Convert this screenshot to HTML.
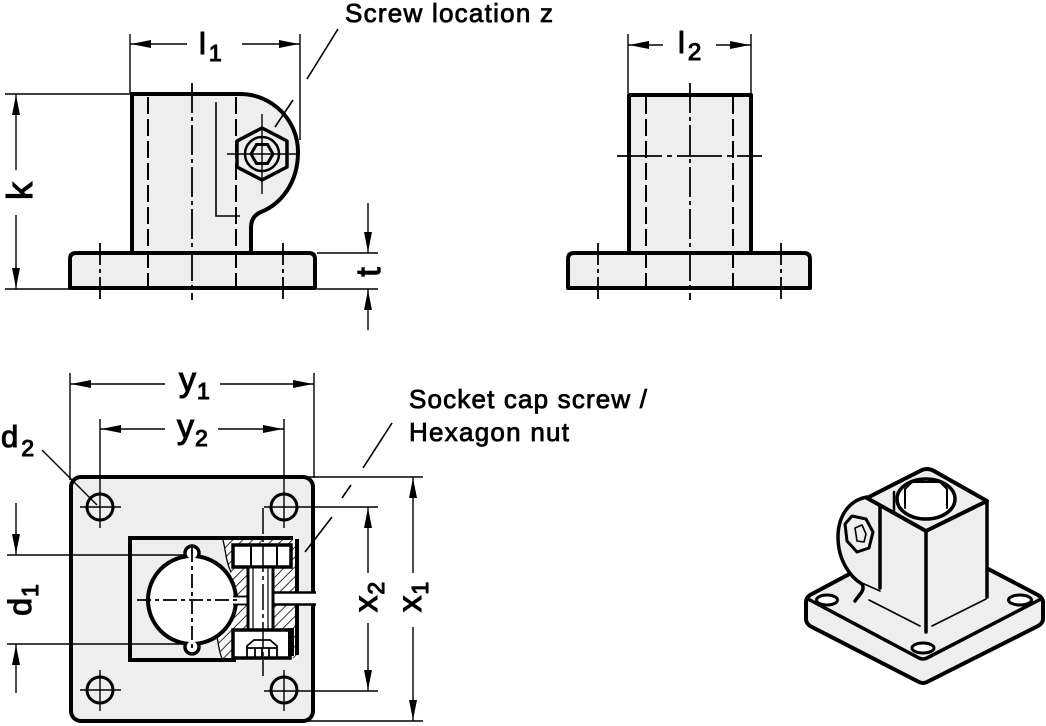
<!DOCTYPE html>
<html><head><meta charset="utf-8">
<style>
html,body{margin:0;padding:0;background:#fff;}
svg{display:block;}
text{font-family:"Liberation Sans",Arial,sans-serif;fill:#000;stroke:#000;}
.d{stroke-width:0.8;}
.l{stroke-width:1.1;}
</style></head><body>
<svg width="1046" height="726" viewBox="0 0 1046 726" xmlns="http://www.w3.org/2000/svg">
<defs>
<pattern id="h" patternUnits="userSpaceOnUse" width="7" height="7" patternTransform="rotate(45)">
<rect width="7" height="7" fill="#fff"/>
<line x1="0" y1="0" x2="0" y2="7" stroke="#000" stroke-width="1.6"/>
</pattern>
</defs>
<rect width="1046" height="726" fill="#fff"/>

<!-- ================= TOP-LEFT VIEW ================= -->
<g fill="#eeeeee" stroke="#000" stroke-width="4" stroke-linejoin="round">
<path d="M132,253 L132,94 L240,94 C272,94 298,120 298,152 C298,183 281,204 261,212 Q251,216 251,228 L251,253 Z"/>
<path d="M70,288 L70,259 Q70,253 76,253 L309,253 Q315,253 315,259 L315,288 Z"/>
</g>
<g stroke="#000" fill="none">
<line x1="148" y1="97" x2="148" y2="286" stroke-width="2" stroke-dasharray="17 5"/>
<line x1="236" y1="97" x2="236" y2="286" stroke-width="2" stroke-dasharray="17 5"/>
<line x1="192" y1="83" x2="192" y2="300" stroke-width="1.8" stroke-dasharray="30 4 4 4"/>
<line x1="100" y1="243" x2="100" y2="300" stroke-width="1.8" stroke-dasharray="22 4 4 4"/>
<line x1="283" y1="243" x2="283" y2="300" stroke-width="1.8" stroke-dasharray="22 4 4 4"/>
<polyline points="216,102 216,216 240,216" stroke-width="1.6"/>
</g>
<!-- hex nut -->
<polygon points="262,128 287,141 287,167 262,180 237,167 237,141" fill="#eeeeee" stroke="#000" stroke-width="3.5" stroke-linejoin="round"/>
<circle cx="262" cy="154" r="17" fill="#eeeeee" stroke="#000" stroke-width="2.5"/>
<polygon points="251,154 256.5,144.5 267.5,144.5 273,154 267.5,163.5 256.5,163.5" fill="#eeeeee" stroke="#000" stroke-width="3"/>
<g stroke="#000" stroke-width="1.4">
<line x1="227" y1="154" x2="296" y2="154"/>
<line x1="262" y1="114" x2="262" y2="194"/>
</g>
<!-- leader screw -->
<g stroke="#000" stroke-width="1.6">
<line x1="338" y1="29" x2="307" y2="79"/>
<line x1="293" y1="100" x2="275" y2="127"/>
</g>
<!-- l1 dim -->
<g stroke="#000" stroke-width="1.4">
<line x1="130" y1="34" x2="130" y2="93"/>
<line x1="300" y1="34" x2="300" y2="140"/>
<line x1="130" y1="44" x2="187" y2="44"/>
<line x1="242" y1="44" x2="300" y2="44"/>
<line x1="5" y1="94" x2="130" y2="94"/>
<line x1="5" y1="289" x2="70" y2="289"/>
<line x1="16" y1="94" x2="16" y2="170"/>
<line x1="16" y1="215" x2="16" y2="289"/>
<line x1="317" y1="253" x2="378" y2="253"/>
<line x1="317" y1="289" x2="378" y2="289"/>
<line x1="368" y1="203" x2="368" y2="253"/>
<line x1="368" y1="289" x2="368" y2="330"/>
</g>
<g fill="#000">
<polygon points="131,44 151,40 151,48"/>
<polygon points="299,44 279,40 279,48"/>
<polygon points="16,95 12,115 20,115"/>
<polygon points="16,288 12,268 20,268"/>
<polygon points="368,252 364,232 372,232"/>
<polygon points="368,290 364,310 372,310"/>
</g>
<text class="l" x="199" y="54" font-size="31">l<tspan font-size="23" dx="3" dy="7">1</tspan></text>
<text class="l" transform="translate(32,191) rotate(-90)" text-anchor="middle" font-size="36">k</text>
<text class="l" transform="translate(380,272) rotate(-90)" text-anchor="middle" font-size="34">t</text>
<text class="d" x="345" y="22" font-size="26" textLength="208" lengthAdjust="spacing">Screw location z</text>

<!-- ================= TOP-RIGHT VIEW ================= -->
<g fill="#eeeeee" stroke="#000" stroke-width="4" stroke-linejoin="round">
<rect x="629" y="95" width="122" height="158"/>
<path d="M568,288 L568,259 Q568,253 574,253 L804,253 Q810,253 810,259 L810,288 Z"/>
</g>
<g stroke="#000" fill="none">
<line x1="646" y1="97" x2="646" y2="286" stroke-width="2" stroke-dasharray="17 5"/>
<line x1="733" y1="97" x2="733" y2="286" stroke-width="2" stroke-dasharray="17 5"/>
<line x1="690" y1="83" x2="690" y2="300" stroke-width="1.8" stroke-dasharray="30 4 4 4"/>
<line x1="617" y1="156" x2="762" y2="156" stroke-width="1.8" stroke-dasharray="45 5 5 5"/>
<line x1="598" y1="243" x2="598" y2="300" stroke-width="1.8" stroke-dasharray="22 4 4 4"/>
<line x1="781" y1="243" x2="781" y2="300" stroke-width="1.8" stroke-dasharray="22 4 4 4"/>
</g>
<g stroke="#000" stroke-width="1.4">
<line x1="628" y1="34" x2="628" y2="93"/>
<line x1="751" y1="34" x2="751" y2="93"/>
<line x1="628" y1="45" x2="663" y2="45"/>
<line x1="716" y1="45" x2="751" y2="45"/>
</g>
<g fill="#000">
<polygon points="629,45 649,41 649,49"/>
<polygon points="750,45 730,41 730,49"/>
</g>
<text class="l" x="678" y="53" font-size="31">l<tspan font-size="24" dx="3" dy="7">2</tspan></text>

<!-- ================= BOTTOM-LEFT VIEW ================= -->
<rect x="71" y="477" width="242" height="244" rx="10" fill="#eeeeee" stroke="#000" stroke-width="4"/>
<polygon points="223,540 297,540 297,658 222,658 219,645 216,634 226,612 236,600 234,585 229,570 226,555" fill="url(#h)"/>
<path d="M223,540 C226,552 226,562 231,572" fill="none" stroke="#000" stroke-width="1.3"/>
<path d="M216,634 C219,642 218,650 222,658" fill="none" stroke="#000" stroke-width="1.3"/>
<rect x="273" y="593" width="44" height="11" fill="#fff"/>
<g stroke="#000" stroke-width="2.5">
<line x1="273" y1="592.5" x2="316" y2="592.5"/>
<line x1="273" y1="604.5" x2="316" y2="604.5"/>
</g>
<circle cx="192" cy="553" r="7" fill="#fff" stroke="#000" stroke-width="3.5"/>
<circle cx="192" cy="647" r="7" fill="#fff" stroke="#000" stroke-width="3.5"/>
<circle cx="192" cy="600" r="44" fill="#fff" stroke="#000" stroke-width="4"/>
<circle cx="192" cy="553.5" r="5.3" fill="#fff"/>
<circle cx="192" cy="646.5" r="5.3" fill="#fff"/>
<rect x="231" y="597" width="18" height="7" fill="#fff"/>
<g stroke="#000" stroke-width="1.8">
<line x1="233" y1="596.5" x2="249" y2="596.5"/>
<line x1="233" y1="604.5" x2="249" y2="604.5"/>
</g>
<g stroke="#000" stroke-width="1.8" fill="none">
<line x1="137" y1="600" x2="240" y2="600" stroke-dasharray="14 4 4 4"/>
<line x1="192" y1="548" x2="192" y2="652" stroke-dasharray="14 4 4 4"/>
</g>
<rect x="233" y="545" width="58" height="22" fill="#fff" stroke="#000" stroke-width="3.5"/>
<g stroke="#000" stroke-width="2">
<line x1="251" y1="546" x2="251" y2="566"/>
<line x1="277" y1="546" x2="277" y2="566"/>
</g>
<rect x="248" y="567" width="25" height="63" fill="#fff" stroke="#000" stroke-width="3"/>
<g stroke="#000" stroke-width="1.2">
<line x1="253" y1="568" x2="253" y2="629"/>
<line x1="268" y1="568" x2="268" y2="629"/>
</g>
<rect x="233" y="630" width="57" height="28" fill="#fff" stroke="#000" stroke-width="3.5"/>
<rect x="288" y="628" width="6" height="28" fill="#000"/>
<g stroke="#000" stroke-width="1.8" fill="none">
<path d="M247,657 L247,646 L254,640 L270,640 L277,646 L277,657"/>
<line x1="247" y1="648" x2="277" y2="648"/>
<line x1="255" y1="648" x2="255" y2="657"/>
<line x1="262" y1="648" x2="262" y2="657"/>
<line x1="269" y1="648" x2="269" y2="657"/>
</g>
<line x1="263" y1="508" x2="263" y2="676" stroke="#000" stroke-width="1.5" stroke-dasharray="26 4 4 4"/>
<g stroke="#000" stroke-width="4" stroke-linecap="square">
<line x1="130" y1="538" x2="291" y2="538"/>
<line x1="130" y1="538" x2="130" y2="660"/>
<line x1="130" y1="660" x2="234" y2="660"/>
<line x1="297" y1="541" x2="297" y2="591"/>
<line x1="297" y1="606" x2="297" y2="653"/>
</g>
<g fill="#eeeeee" stroke="#000" stroke-width="3">
<circle cx="100" cy="507" r="13"/>
<circle cx="284" cy="507" r="13"/>
<circle cx="100" cy="690" r="13"/>
<circle cx="284" cy="690" r="13"/>
</g>
<g stroke="#000" stroke-width="1.4">
<line x1="80" y1="507" x2="121" y2="507"/>
<line x1="100" y1="419" x2="100" y2="528"/>
<line x1="284" y1="419" x2="284" y2="528"/>
<line x1="264" y1="507" x2="378" y2="507"/>
<line x1="80" y1="690" x2="121" y2="690"/>
<line x1="100" y1="670" x2="100" y2="711"/>
<line x1="264" y1="691" x2="378" y2="691"/>
<line x1="284" y1="670" x2="284" y2="711"/>
<line x1="70" y1="373" x2="70" y2="480"/>
<line x1="314" y1="373" x2="314" y2="478"/>
<line x1="70" y1="384" x2="165" y2="384"/>
<line x1="220" y1="384" x2="314" y2="384"/>
<line x1="100" y1="429" x2="165" y2="429"/>
<line x1="218" y1="429" x2="284" y2="429"/>
<line x1="7" y1="555" x2="185" y2="555"/>
<line x1="7" y1="644" x2="185" y2="644"/>
<line x1="16" y1="503" x2="16" y2="555"/>
<line x1="16" y1="644" x2="16" y2="693"/>
<line x1="368" y1="507" x2="368" y2="573"/>
<line x1="368" y1="623" x2="368" y2="691"/>
<line x1="305" y1="477" x2="423" y2="477"/>
<line x1="305" y1="721" x2="423" y2="721"/>
<line x1="413" y1="477" x2="413" y2="573"/>
<line x1="413" y1="627" x2="413" y2="721"/>
<line x1="42" y1="450" x2="97" y2="505"/>
</g>
<g stroke="#000" stroke-width="1.6">
<line x1="392" y1="423" x2="363" y2="468"/>
<line x1="351" y1="485" x2="342" y2="498"/>
<line x1="332" y1="517" x2="305" y2="552"/>
</g>
<g fill="#000">
<polygon points="71,384 91,380 91,388"/>
<polygon points="313,384 293,380 293,388"/>
<polygon points="101,429 121,425 121,433"/>
<polygon points="283,429 263,425 263,433"/>
<polygon points="16,554 12,534 20,534"/>
<polygon points="16,645 12,665 20,665"/>
<polygon points="368,508 364,528 372,528"/>
<polygon points="368,690 364,670 372,670"/>
<polygon points="413,478 409,498 417,498"/>
<polygon points="413,720 409,700 417,700"/>
</g>
<text class="l" x="179" y="391" font-size="34">y<tspan font-size="23" dx="1" dy="8">1</tspan></text>
<text class="l" x="177" y="438" font-size="34">y<tspan font-size="23" dx="1" dy="8">2</tspan></text>
<text class="l" x="1" y="447" font-size="31">d<tspan font-size="23" dx="3" dy="9">2</tspan></text>
<text class="l" transform="translate(31,600) rotate(-90)" text-anchor="middle" font-size="32">d<tspan font-size="23" dx="1" dy="7">1</tspan></text>
<text class="l" transform="translate(377,597) rotate(-90)" text-anchor="middle" font-size="33">x<tspan font-size="23" dx="1" dy="7">2</tspan></text>
<text class="l" transform="translate(421,597) rotate(-90)" text-anchor="middle" font-size="33">x<tspan font-size="23" dx="1" dy="7">1</tspan></text>
<text class="d" x="409" y="408" font-size="26" textLength="238" lengthAdjust="spacing">Socket cap screw /</text>
<text class="d" x="409" y="441" font-size="26" textLength="160" lengthAdjust="spacing">Hexagon nut</text>

<!-- ================= ISOMETRIC VIEW ================= -->
<g stroke="#000" stroke-linejoin="round" stroke-linecap="round">
<path d="M810,595 L919,537 Q923,535 927,537 L1038,595 Q1043,598 1043,602 L1043,619 Q1043,623 1038,626 L927,682 Q923,684 919,682 L810,626 Q806,623 806,619 L806,602 Q806,598 810,595 Z" fill="#eeeeee" stroke-width="4"/>
<path d="M808,599 L919,658 Q923,660 927,658 L1041,599" fill="none" stroke-width="3.5"/>
<ellipse cx="827" cy="600" rx="10.5" ry="5" fill="#fff" stroke-width="3"/>
<ellipse cx="1020" cy="600" rx="11.5" ry="5" fill="#fff" stroke-width="3"/>
<ellipse cx="923" cy="648" rx="11" ry="5" fill="#fff" stroke-width="3"/>
<path d="M867,497 C850,500 838,515 838,537 C838,560 850,577 862,584 C866,590 858,596 855,601 L880,601 L880,505 Z" fill="#eeeeee" stroke="none"/>
<path d="M867,498 L926,531 L926,632 L867,600 Z" fill="#eeeeee" stroke="none"/>
<path d="M926,531 L987,501 L987,600 L926,632 Z" fill="#eeeeee" stroke="none"/>
<path d="M867,498 L920,471 Q927,467 934,471 L987,501 L926,531 Z" fill="#eeeeee" stroke-width="4"/>
<line x1="926" y1="531" x2="926" y2="632" stroke-width="3.5"/>
<line x1="987" y1="501" x2="987" y2="597" stroke-width="3.5"/>
<line x1="880" y1="506" x2="880" y2="588" stroke-width="3.5"/>
<line x1="869" y1="600" x2="920" y2="626" stroke-width="1.6"/>
<line x1="932" y1="626" x2="986" y2="599" stroke-width="1.6"/>
<line x1="862" y1="583" x2="880" y2="591" stroke-width="1.6"/>
<path d="M867,497 C850,500 838,515 838,537 C838,560 850,577 862,584 C866,590 858,596 855,601" fill="none" stroke-width="3.5"/>
<polygon points="852,516 866,519 873,532 869,548 857,552 847,541 845,524" fill="#eeeeee" stroke-width="3"/>
<path d="M855,528 L862,525 L866,534 L864,542 L857,541 Z" fill="none" stroke-width="1.6"/>
<ellipse cx="926" cy="499" rx="29" ry="20" fill="#fff" stroke-width="3.5"/>
<polyline points="905,508 905,489 912,482 940,482 947,489 947,508" fill="none" stroke-width="2"/>
<line x1="894" y1="492" x2="894" y2="512" stroke-width="2.5"/>
</g>
</svg>
</body></html>
